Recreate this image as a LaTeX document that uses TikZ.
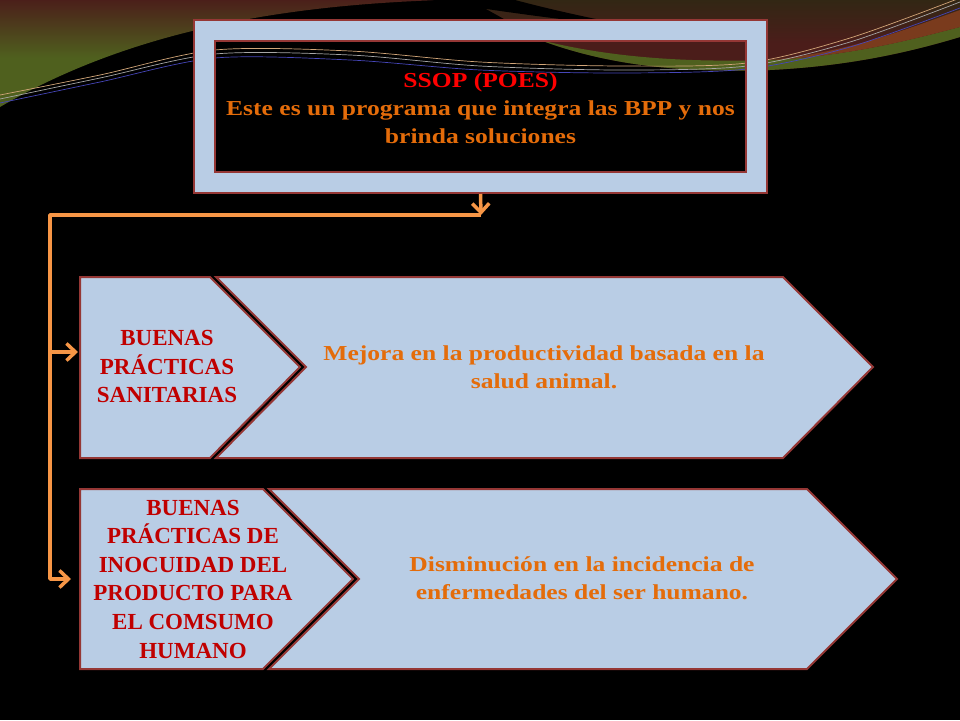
\documentclass[tikz,border=0pt]{standalone}
\usepackage{fontspec}
\setmainfont{Liberation Serif}
\newfontfamily\widefont[FakeStretch=1.2]{Liberation Serif}
\usetikzlibrary{arrows.meta}
\definecolor{bgred}{HTML}{4B1D1A}
\definecolor{bggreen}{HTML}{4F601E}
\definecolor{bgolive}{HTML}{2A2A12}
\definecolor{bgbrown}{HTML}{7A3B1D}
\definecolor{boxblue}{HTML}{B9CDE5}
\definecolor{bord}{HTML}{953735}
\definecolor{ssopred}{HTML}{FF0000}
\definecolor{orangetxt}{HTML}{E46C0A}
\definecolor{lefttxt}{HTML}{C00000}
\definecolor{arrorange}{HTML}{F79646}
\pgfdeclareverticalshading{leftswirl}{100bp}{color(0bp)=(bggreen); color(48bp)=(bggreen); color(76bp)=(bgred); color(100bp)=(bgred)}
\pgfdeclareverticalshading{rightswirl}{100bp}{color(0bp)=(bgred); color(45bp)=(bgred); color(85bp)=(bgolive); color(100bp)=(bgolive)}
\begin{document}
\begin{tikzpicture}[x=1pt,y=-1pt,
  shapestyle/.style={fill=boxblue, draw=bord, line width=2pt, line join=miter},
  lefttext/.style={text=lefttxt, font=\bfseries\fontsize{23}{28.6}\selectfont, align=center, inner sep=0pt},
  righttext/.style={text=orangetxt, font=\widefont\bfseries\fontsize{21.3}{28}\selectfont, align=center, inner sep=0pt},
  conn/.style={draw=arrorange, line width=3.5pt, line join=round, -{Straight Barb[length=9pt,width=17pt]}},
  thinline/.style={line width=0.7pt}
]
\useasboundingbox (0,0) rectangle (960,720);
% background
\fill[black] (0,0) rectangle (960,720);
\shade[shading=leftswirl]
  (0,0) -- (440,0) .. controls (300,5) and (140,25) .. (0,107) -- cycle;
\shade[shading=rightswirl]
  (470,0) -- (960,0) -- (960,37) .. controls (910,52) and (850,66) .. (770,70)
  .. controls (700,72) and (620,70) .. (540,40) .. controls (515,25) .. (470,0) -- cycle;
\fill[bggreen] (540,40) .. controls (620,60) and (700,62) .. (770,60)
  .. controls (850,56) and (910,40) .. (960,27) -- (960,37)
  .. controls (910,52) and (850,66) .. (770,70)
  .. controls (700,72) and (620,70) .. (540,40) -- cycle;
\fill[bgbrown] (770,60) .. controls (850,52) and (910,28) .. (960,10) -- (960,27)
  .. controls (910,40) and (850,56) .. (770,60) -- cycle;
\fill[black] (430,0) -- (515,0) .. controls (560,12) and (600,20) .. (640,28)
  .. controls (580,22) and (500,12) .. (430,0) -- cycle;
\draw[thinline, gray!70] plot[smooth] coordinates {(0,99) (100,78) (215,54) (350,55) (480,66) (620,70) (747,66) (850,42) (960,2)};
\draw[thinline, blue!45!gray] plot[smooth] coordinates {(0,103) (100,82) (215,58) (350,60) (480,70) (620,73) (747,69) (850,47) (960,8)};
\draw[thinline, brown!70!white] plot[smooth] coordinates {(0,95) (100,75) (215,50) (350,51) (480,62) (620,66) (747,63) (850,38) (960,-2)};
% top box
\fill[boxblue, even odd rule] (194,20) rectangle (767,193) (215,41) rectangle (746,172);
\node[draw=bord, line width=2pt, minimum width=573pt, minimum height=173pt, inner sep=0pt] (outer) at (480.5,106.5) {};
\node[draw=bord, line width=2pt, minimum width=531pt, minimum height=131pt, inner sep=0pt] (inner) at (480.5,106.5) {};
\node[righttext, anchor=center] (toptext) at (480.5,108)
  {{\color{ssopred}SSOP (POES)}\\Este es un programa que integra las BPP y nos\\brinda soluciones};
% row 1
\path[shapestyle] (80,277) -- (210,277) -- (300,367) -- (210,458) -- (80,458) -- cycle;
\draw[black, line width=1.6pt] (213,277) -- (303,367) -- (213,458);
\path[shapestyle] (216,277) -- (783,277) -- (873,367) -- (783,458) -- (216,458) -- (306,367) -- cycle;
\node[lefttext] (bps) at (167,366.5) {BUENAS\\PRÁCTICAS\\SANITARIAS};
\node[righttext] (mejora) at (544,367) {Mejora en la productividad basada en la\\salud animal.};
% row 2
\path[shapestyle] (80,489) -- (263,489) -- (353,579) -- (263,669) -- (80,669) -- cycle;
\draw[black, line width=1.6pt] (266,489) -- (356,579) -- (266,669);
\path[shapestyle] (269,489) -- (807,489) -- (897,579) -- (807,669) -- (269,669) -- (359,579) -- cycle;
\node[lefttext] (bpi) at (193,579) {BUENAS\\PRÁCTICAS DE\\INOCUIDAD DEL\\PRODUCTO PARA\\EL COMSUMO\\HUMANO};
\node[righttext] (dismin) at (582,578) {Disminución en la incidencia de\\enfermedades del ser humano.};
% connectors
\coordinate (j) at (481,215);
\coordinate (hc) at (50,215);
\coordinate (v1) at (50,352);
\coordinate (l1) at (78,352);
\coordinate (v2) at (50,579);
\coordinate (l2) at (71,579);
\draw[conn] (outer.south) -- (j);
\draw[conn] (j) -- (hc) -- (v2) -- (l2);
\draw[conn] (v1) -- (l1);
\end{tikzpicture}
\end{document}
